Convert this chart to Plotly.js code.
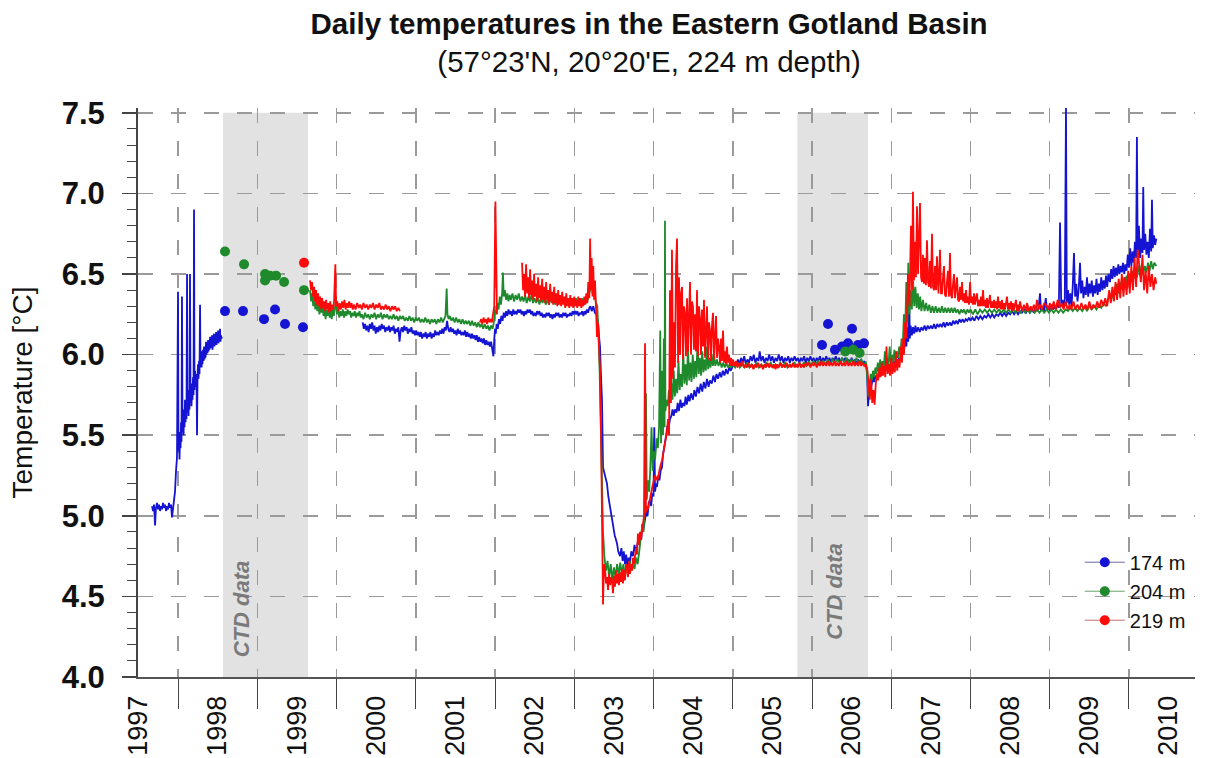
<!DOCTYPE html>
<html><head><meta charset="utf-8">
<script src="https://cdn.plot.ly/plotly-3.0.1.min.js"></script>
<style>html,body{margin:0;padding:0;background:#fff}#chart{width:1211px;height:758px}</style>
</head><body><div id="chart"></div>
<script>
// ---------- data (decimal year, °C) ----------
const yearLabels = ['1997','1998','1999','2000','2001','2002','2003','2004','2005','2006','2007','2008','2009','2010'];
const yearCenters = [1997.5,1998.5,1999.5,2000.5,2001.5,2002.5,2003.5,2004.5,2005.5,2006.5,2007.5,2008.5,2009.5,2010.5];
const yearBounds = [1998,1999,2000,2001,2002,2003,2004,2005,2006,2007,2008,2009,2010];
const seriesNames = ['174 m','204 m','219 m'];
const ctdPeriods = [[1998.568,1999.640],[2005.815,2006.707]];
const ctdLabelPos = [[1998.795,4.42],[2006.28,4.53]];

const data174 = [
[1997.672,5.06],[1997.685,5.03],[1997.697,5.07],[1997.710,4.94],[1997.722,5.05],[1997.735,5.08],[1997.748,5.04],[1997.760,5.07],[1997.773,5.03],[1997.786,5.06],[1997.798,5.04],[1997.811,5.08],[1997.823,5.05],[1997.836,5.07],[1997.849,5.03],[1997.861,5.06],[1997.874,5.04],[1997.886,5.08],[1997.899,5.05],[1997.912,5.07],[1997.924,4.99],[1997.937,5.06],[1997.950,5.08],
[1997.962,5.15],[1997.975,5.28],[1997.987,5.36],[1998.000,6.39],[1998.006,5.40],[1998.013,5.48],[1998.019,5.35],[1998.025,5.52],[1998.032,5.42],[1998.038,5.58],[1998.044,5.46],[1998.050,6.36],[1998.057,5.52],[1998.063,5.62],[1998.070,5.50],[1998.076,5.66],[1998.082,5.55],[1998.088,5.72],[1998.095,5.58],[1998.101,5.68],[1998.107,5.60],[1998.114,6.50],[1998.120,5.64],[1998.126,5.74],[1998.133,5.62],[1998.139,5.78],[1998.145,5.66],[1998.151,6.50],[1998.158,5.70],[1998.164,5.82],[1998.170,5.68],[1998.177,5.80],[1998.183,5.72],[1998.189,5.86],[1998.196,5.75],[1998.202,6.90],[1998.208,5.78],[1998.215,5.90],[1998.221,5.80],[1998.227,5.88],[1998.234,5.82],[1998.240,5.50],[1998.246,5.86],[1998.252,5.94],[1998.259,5.85],[1998.265,5.96],[1998.271,5.88],[1998.278,6.31],[1998.284,5.92],[1998.290,6.00],[1998.297,5.92],[1998.303,6.02],[1998.309,5.94],[1998.315,6.03],[1998.322,5.96],[1998.328,6.05],[1998.334,5.97],[1998.341,6.04],[1998.347,5.98],[1998.353,6.08],[1998.360,6.00],[1998.366,6.06],[1998.372,6.01],[1998.379,6.09],[1998.385,6.02],[1998.391,6.08],[1998.398,6.03],[1998.404,6.11],[1998.410,6.04],[1998.416,6.10],[1998.423,6.05],[1998.429,6.12],[1998.435,6.03],[1998.442,6.09],[1998.448,6.06],[1998.454,6.13],[1998.461,6.05],[1998.467,6.11],[1998.473,6.07],[1998.480,6.14],[1998.486,6.06],[1998.492,6.12],[1998.499,6.08],[1998.505,6.15],[1998.511,6.07],[1998.517,6.13],[1998.524,6.09],[1998.530,6.16],[1998.536,6.08],[1998.543,6.12],[1998.549,6.10],[1998.555,6.11],
[1998.560,null],
[2000.330,6.20],[2000.345,6.16],[2000.360,6.19],[2000.375,6.15],[2000.390,6.18],[2000.405,6.14],[2000.420,6.19],[2000.435,6.16],[2000.450,6.20],[2000.465,6.15],[2000.480,6.18],[2000.495,6.13],[2000.510,6.17],[2000.525,6.14],[2000.540,6.18],[2000.555,6.15],[2000.570,6.19],[2000.585,6.16],[2000.600,6.18],[2000.615,6.14],[2000.630,6.17],[2000.645,6.15],[2000.660,6.18],[2000.675,6.14],[2000.690,6.17],[2000.705,6.15],[2000.720,6.18],[2000.735,6.13],[2000.750,6.16],[2000.765,6.14],[2000.780,6.17],[2000.795,6.08],[2000.810,6.15],[2000.825,6.17],[2000.840,6.14],[2000.855,6.18],[2000.870,6.15],[2000.885,6.17],[2000.900,6.13],[2000.915,6.16],[2000.930,6.14],[2000.945,6.17],[2000.960,6.13],[2000.975,6.15],[2000.990,6.12],
[2001.005,6.15],[2001.020,6.12],[2001.035,6.14],[2001.050,6.11],[2001.065,6.14],[2001.080,6.10],[2001.095,6.13],[2001.110,6.11],[2001.125,6.14],[2001.140,6.10],[2001.155,6.13],[2001.170,6.11],[2001.185,6.14],[2001.200,6.10],[2001.215,6.13],[2001.230,6.11],[2001.245,6.15],[2001.260,6.12],[2001.275,6.14],[2001.290,6.12],[2001.305,6.15],[2001.320,6.13],[2001.335,6.16],[2001.350,6.13],[2001.365,6.17],[2001.380,6.15],[2001.395,6.21],[2001.410,6.16],[2001.425,6.14],[2001.440,6.17],[2001.455,6.14],[2001.470,6.16],[2001.485,6.13],[2001.500,6.15],[2001.515,6.12],[2001.530,6.16],[2001.545,6.13],[2001.560,6.15],[2001.575,6.12],[2001.590,6.14],[2001.605,6.12],[2001.620,6.15],[2001.635,6.11],[2001.650,6.14],[2001.665,6.11],[2001.680,6.13],[2001.695,6.10],[2001.710,6.13],[2001.725,6.10],[2001.740,6.12],[2001.755,6.09],[2001.770,6.12],[2001.785,6.08],[2001.800,6.11],[2001.815,6.08],[2001.830,6.10],[2001.845,6.07],[2001.860,6.10],[2001.875,6.06],[2001.890,6.09],[2001.905,6.06],[2001.920,6.08],[2001.935,6.05],[2001.950,6.08],[2001.965,6.04],[2001.980,5.99],[2001.990,6.09],
[2002.000,6.16],[2002.010,6.13],[2002.020,6.19],[2002.035,6.16],[2002.050,6.22],[2002.065,6.19],[2002.080,6.24],[2002.095,6.21],[2002.110,6.26],[2002.125,6.23],[2002.140,6.27],[2002.155,6.24],[2002.170,6.28],[2002.185,6.25],[2002.200,6.27],[2002.215,6.24],[2002.230,6.28],[2002.245,6.25],[2002.260,6.27],[2002.275,6.25],[2002.290,6.28],[2002.305,6.26],[2002.320,6.28],[2002.335,6.25],[2002.350,6.27],[2002.365,6.24],[2002.380,6.27],[2002.395,6.25],[2002.410,6.28],[2002.425,6.26],[2002.440,6.28],[2002.455,6.25],[2002.470,6.27],[2002.485,6.24],[2002.500,6.26],[2002.515,6.24],[2002.530,6.27],[2002.545,6.25],[2002.560,6.27],[2002.575,6.24],[2002.590,6.26],[2002.605,6.23],[2002.620,6.25],[2002.635,6.23],[2002.650,6.26],[2002.665,6.24],[2002.680,6.26],[2002.695,6.23],[2002.710,6.25],[2002.725,6.22],[2002.740,6.25],[2002.755,6.23],[2002.770,6.26],[2002.785,6.24],[2002.800,6.26],[2002.815,6.23],[2002.830,6.25],[2002.845,6.23],[2002.860,6.26],[2002.875,6.24],[2002.890,6.26],[2002.905,6.23],[2002.920,6.25],[2002.935,6.24],[2002.950,6.26],[2002.965,6.24],[2002.980,6.27],[2002.995,6.25],
[2003.010,6.27],[2003.025,6.25],[2003.040,6.27],[2003.055,6.24],[2003.070,6.26],[2003.085,6.25],[2003.100,6.27],[2003.115,6.24],[2003.130,6.27],[2003.145,6.25],[2003.160,6.28],[2003.175,6.26],[2003.190,6.29],[2003.205,6.30],[2003.220,6.27],[2003.240,6.30],[2003.260,6.26],[2003.280,6.25],[2003.300,6.20],[2003.315,6.10],[2003.325,6.05],[2003.335,5.90],[2003.350,5.72],[2003.363,5.30],[2003.388,5.25],[2003.413,5.20],[2003.430,5.12],[2003.451,5.06],[2003.470,5.00],[2003.489,4.93],[2003.510,4.88],[2003.539,4.83],[2003.555,4.78],[2003.577,4.75],[2003.595,4.80],[2003.610,4.72],[2003.625,4.78],[2003.640,4.70],[2003.655,4.76],[2003.670,4.68],[2003.685,4.74],[2003.703,4.71],[2003.720,4.78],[2003.741,4.75],[2003.760,4.82],[2003.775,4.78],[2003.792,4.81],[2003.810,4.86],[2003.830,4.89],[2003.845,4.85],[2003.860,4.95],[2003.875,4.92],[2003.893,4.99],[2003.910,5.03],[2003.925,5.00],[2003.940,5.08],[2003.956,5.10],[2003.970,5.06],[2003.985,5.14],
[2004.000,5.12],[2004.010,5.55],[2004.019,5.15],[2004.035,5.20],[2004.044,5.18],[2004.060,5.25],[2004.075,5.22],[2004.090,5.28],[2004.107,5.30],[2004.120,5.38],[2004.135,5.42],[2004.145,5.47],[2004.160,5.50],[2004.175,5.56],[2004.190,5.54],[2004.208,5.60],[2004.225,5.62],[2004.240,5.66],[2004.255,5.62],[2004.271,5.66],[2004.290,5.64],[2004.305,5.70],[2004.320,5.65],[2004.340,5.72],[2004.355,5.67],[2004.372,5.70],[2004.390,5.68],[2004.405,5.74],[2004.420,5.69],[2004.440,5.75],[2004.455,5.71],[2004.475,5.76],[2004.498,5.72],[2004.515,5.78],[2004.535,5.74],[2004.555,5.80],[2004.575,5.76],[2004.595,5.82],[2004.615,5.77],[2004.635,5.83],[2004.655,5.79],[2004.675,5.85],[2004.695,5.80],[2004.713,5.84],[2004.735,5.82],[2004.755,5.87],[2004.775,5.83],[2004.795,5.88],[2004.815,5.85],[2004.835,5.89],[2004.855,5.86],[2004.875,5.90],[2004.895,5.87],[2004.915,5.91],[2004.935,5.88],[2004.955,5.92],[2004.975,5.90],[2005.003,5.93],
[2005.025,5.95],[2005.045,5.93],[2005.065,5.97],[2005.085,5.94],[2005.105,5.98],[2005.125,5.95],[2005.145,5.99],[2005.165,5.94],[2005.185,5.97],[2005.205,5.95],[2005.225,5.99],[2005.245,5.96],[2005.265,6.00],[2005.285,5.95],[2005.305,5.98],[2005.325,5.96],[2005.340,6.02],[2005.360,5.96],[2005.380,5.99],[2005.400,5.95],[2005.420,5.98],[2005.440,5.96],[2005.460,6.00],[2005.480,5.96],[2005.500,5.99],[2005.520,5.95],[2005.540,5.98],[2005.560,5.96],[2005.580,6.00],[2005.600,5.96],[2005.620,5.99],[2005.640,5.95],[2005.660,5.98],[2005.680,5.96],[2005.700,5.99],[2005.720,5.95],[2005.740,5.98],[2005.760,5.96],[2005.780,5.99],[2005.800,5.96],[2005.820,5.98],[2005.840,5.95],[2005.860,5.98],[2005.880,5.96],[2005.900,5.99],[2005.920,5.95],[2005.940,5.98],[2005.960,5.96],[2005.980,5.99],
[2006.000,5.96],[2006.020,5.98],[2006.040,5.95],[2006.060,5.98],[2006.080,5.96],[2006.100,5.99],[2006.120,5.95],[2006.140,5.98],[2006.160,5.96],[2006.180,5.99],[2006.200,5.96],[2006.220,5.98],[2006.240,5.95],[2006.260,5.98],[2006.280,5.96],[2006.300,5.99],[2006.320,5.96],[2006.340,5.98],[2006.360,5.95],[2006.380,5.98],[2006.400,5.96],[2006.420,5.98],[2006.440,5.95],[2006.460,5.97],[2006.480,5.95],[2006.500,5.98],[2006.520,5.95],[2006.540,5.97],[2006.560,5.94],[2006.580,5.97],[2006.600,5.95],[2006.620,5.97],[2006.640,5.94],[2006.660,5.96],[2006.680,5.93],[2006.695,5.90],[2006.707,5.68],[2006.715,5.75],[2006.725,5.80],[2006.740,5.78],[2006.755,5.83],[2006.770,5.86],[2006.785,5.83],[2006.800,5.87],[2006.815,5.85],[2006.830,5.88],[2006.845,5.86],[2006.860,5.90],[2006.875,5.87],[2006.890,5.91],[2006.905,5.88],[2006.920,5.92],[2006.935,5.90],[2006.950,5.93],[2006.965,5.91],[2006.980,5.94],[2006.995,5.92],
[2007.010,5.95],[2007.025,5.93],[2007.040,5.96],[2007.055,5.94],[2007.070,5.97],[2007.085,5.95],[2007.100,5.98],[2007.115,5.97],[2007.130,6.02],[2007.145,6.07],[2007.160,6.01],[2007.175,6.12],[2007.190,6.05],[2007.205,6.17],[2007.215,6.08],[2007.225,6.40],[2007.235,6.10],[2007.245,6.18],[2007.260,6.12],[2007.275,6.17],[2007.290,6.13],[2007.305,6.18],[2007.320,6.14],[2007.340,6.17],[2007.360,6.14],[2007.380,6.17],[2007.400,6.15],[2007.420,6.18],[2007.440,6.15],[2007.460,6.18],[2007.480,6.16],[2007.500,6.18],[2007.520,6.16],[2007.540,6.19],[2007.560,6.16],[2007.580,6.19],[2007.600,6.17],[2007.620,6.19],[2007.640,6.17],[2007.660,6.20],[2007.680,6.17],[2007.700,6.20],[2007.720,6.18],[2007.740,6.20],[2007.760,6.18],[2007.780,6.21],[2007.800,6.19],[2007.820,6.21],[2007.840,6.19],[2007.860,6.22],[2007.880,6.20],[2007.900,6.22],[2007.920,6.20],[2007.940,6.22],[2007.960,6.21],[2007.980,6.23],
[2008.000,6.21],[2008.025,6.23],[2008.050,6.21],[2008.075,6.24],[2008.100,6.22],[2008.125,6.24],[2008.150,6.22],[2008.175,6.24],[2008.200,6.23],[2008.225,6.25],[2008.250,6.23],[2008.275,6.25],[2008.300,6.23],[2008.325,6.25],[2008.350,6.24],[2008.375,6.26],[2008.400,6.24],[2008.425,6.26],[2008.450,6.24],[2008.475,6.26],[2008.500,6.25],[2008.525,6.27],[2008.550,6.25],[2008.575,6.27],[2008.600,6.25],[2008.625,6.27],[2008.650,6.26],[2008.675,6.28],[2008.700,6.26],[2008.725,6.28],[2008.750,6.26],[2008.775,6.28],[2008.800,6.26],[2008.820,6.30],[2008.840,6.27],[2008.860,6.29],[2008.877,6.38],[2008.890,6.27],[2008.910,6.30],[2008.930,6.27],[2008.950,6.35],[2008.965,6.28],[2008.985,6.30],
[2009.000,6.27],[2009.020,6.31],[2009.040,6.28],[2009.060,6.30],[2009.080,6.28],[2009.100,6.32],[2009.115,6.29],[2009.130,6.82],[2009.145,6.30],[2009.160,6.34],[2009.175,6.29],[2009.190,6.35],[2009.205,7.53],[2009.215,6.32],[2009.230,6.40],[2009.245,6.31],[2009.260,6.38],[2009.275,6.30],[2009.290,6.42],[2009.306,6.63],[2009.320,6.36],[2009.335,6.44],[2009.350,6.33],[2009.365,6.40],[2009.382,6.57],[2009.395,6.38],[2009.410,6.46],[2009.425,6.35],[2009.440,6.42],[2009.455,6.37],[2009.470,6.48],[2009.485,6.36],[2009.500,6.44],[2009.515,6.38],[2009.530,6.46],[2009.545,6.36],[2009.560,6.43],[2009.575,6.38],[2009.590,6.47],[2009.605,6.37],[2009.620,6.44],[2009.635,6.39],[2009.650,6.48],[2009.665,6.40],[2009.680,6.46],[2009.695,6.41],[2009.710,6.49],[2009.725,6.42],[2009.740,6.50],[2009.760,6.45],[2009.775,6.53],[2009.790,6.47],[2009.805,6.55],[2009.820,6.48],[2009.835,6.54],[2009.850,6.49],[2009.865,6.56],[2009.880,6.50],[2009.895,6.55],[2009.910,6.51],[2009.925,6.57],[2009.940,6.50],[2009.955,6.56],[2009.970,6.52],[2009.985,6.62],
[2010.000,6.54],[2010.015,6.66],[2010.030,6.55],[2010.045,6.64],[2010.060,6.57],[2010.075,6.70],[2010.090,6.60],[2010.100,7.35],[2010.110,6.62],[2010.125,6.80],[2010.140,6.60],[2010.155,6.72],[2010.170,6.63],[2010.180,7.04],[2010.190,6.65],[2010.205,6.75],[2010.220,6.62],[2010.235,6.70],[2010.250,6.60],[2010.265,6.78],[2010.280,6.64],[2010.290,6.96],[2010.300,6.66],[2010.315,6.74],[2010.330,6.68],[2010.345,6.72]
];

const data204 = [
[1999.666,6.40],[1999.680,6.33],[1999.693,6.38],[1999.706,6.30],[1999.719,6.36],[1999.732,6.28],[1999.745,6.34],[1999.758,6.27],[1999.771,6.33],[1999.784,6.25],[1999.797,6.31],[1999.810,6.26],[1999.823,6.30],[1999.836,6.24],[1999.849,6.29],[1999.862,6.22],[1999.875,6.28],[1999.888,6.24],[1999.901,6.30],[1999.914,6.23],[1999.927,6.27],[1999.940,6.22],[1999.953,6.28],[1999.966,6.24],[1999.980,6.29],[1999.993,6.36],
[2000.005,6.25],[2000.020,6.28],[2000.035,6.23],[2000.050,6.27],[2000.065,6.24],[2000.080,6.28],[2000.095,6.23],[2000.110,6.27],[2000.125,6.24],[2000.140,6.28],[2000.155,6.25],[2000.170,6.27],[2000.185,6.23],[2000.200,6.26],[2000.215,6.24],[2000.230,6.27],[2000.245,6.23],[2000.260,6.26],[2000.275,6.24],[2000.290,6.27],[2000.305,6.23],[2000.320,6.25],[2000.340,6.22],[2000.360,6.26],[2000.380,6.23],[2000.400,6.25],[2000.420,6.22],[2000.440,6.25],[2000.460,6.23],[2000.480,6.26],[2000.500,6.22],[2000.520,6.25],[2000.540,6.23],[2000.560,6.26],[2000.580,6.22],[2000.600,6.25],[2000.620,6.23],[2000.640,6.25],[2000.660,6.22],[2000.680,6.24],[2000.700,6.22],[2000.720,6.25],[2000.740,6.22],[2000.760,6.24],[2000.780,6.21],[2000.800,6.24],[2000.820,6.22],[2000.840,6.24],[2000.860,6.21],[2000.880,6.23],[2000.900,6.21],[2000.920,6.24],[2000.940,6.21],[2000.960,6.23],[2000.980,6.20],
[2001.000,6.23],[2001.020,6.21],[2001.040,6.23],[2001.060,6.20],[2001.080,6.22],[2001.100,6.20],[2001.120,6.23],[2001.140,6.20],[2001.160,6.22],[2001.180,6.19],[2001.200,6.22],[2001.220,6.20],[2001.240,6.22],[2001.260,6.19],[2001.280,6.22],[2001.300,6.20],[2001.320,6.23],[2001.340,6.20],[2001.360,6.22],[2001.375,6.24],[2001.390,6.41],[2001.400,6.25],[2001.415,6.22],[2001.430,6.24],[2001.450,6.21],[2001.470,6.23],[2001.490,6.20],[2001.510,6.23],[2001.530,6.20],[2001.550,6.22],[2001.570,6.19],[2001.590,6.22],[2001.610,6.19],[2001.630,6.21],[2001.650,6.19],[2001.670,6.21],[2001.690,6.18],[2001.710,6.21],[2001.730,6.18],[2001.750,6.20],[2001.770,6.17],[2001.790,6.20],[2001.810,6.17],[2001.830,6.19],[2001.850,6.16],[2001.870,6.19],[2001.890,6.16],[2001.910,6.18],[2001.930,6.15],[2001.950,6.18],[2001.970,6.16],[2001.985,6.20],
[2002.000,6.28],[2002.015,6.25],[2002.030,6.32],[2002.045,6.28],[2002.060,6.36],[2002.075,6.31],[2002.090,6.38],[2002.100,6.51],[2002.110,6.36],[2002.125,6.40],[2002.140,6.34],[2002.155,6.38],[2002.170,6.33],[2002.185,6.37],[2002.200,6.34],[2002.220,6.38],[2002.240,6.33],[2002.260,6.37],[2002.280,6.34],[2002.300,6.38],[2002.320,6.33],[2002.340,6.36],[2002.360,6.33],[2002.380,6.37],[2002.400,6.32],[2002.420,6.36],[2002.440,6.33],[2002.460,6.37],[2002.480,6.32],[2002.500,6.35],[2002.520,6.32],[2002.540,6.36],[2002.560,6.31],[2002.580,6.35],[2002.600,6.32],[2002.620,6.35],[2002.640,6.31],[2002.660,6.34],[2002.680,6.31],[2002.700,6.35],[2002.720,6.32],[2002.740,6.35],[2002.760,6.31],[2002.780,6.34],[2002.800,6.31],[2002.820,6.35],[2002.840,6.32],[2002.860,6.34],[2002.880,6.31],[2002.900,6.35],[2002.920,6.32],[2002.940,6.35],[2002.960,6.31],[2002.980,6.34],
[2003.000,6.32],[2003.020,6.35],[2003.040,6.31],[2003.060,6.34],[2003.080,6.32],[2003.100,6.35],[2003.120,6.31],[2003.140,6.34],[2003.160,6.32],[2003.180,6.36],[2003.200,6.40],[2003.215,6.51],[2003.230,6.38],[2003.250,6.42],[2003.270,6.33],[2003.290,6.30],[2003.305,6.15],[2003.320,5.90],[2003.335,5.60],[2003.350,5.20],[2003.363,4.90],[2003.380,4.75],[2003.400,4.66],[2003.420,4.72],[2003.440,4.62],[2003.460,4.70],[2003.480,4.60],[2003.500,4.68],[2003.520,4.62],[2003.540,4.70],[2003.560,4.63],[2003.580,4.71],[2003.600,4.64],[2003.620,4.70],[2003.640,4.62],[2003.660,4.69],[2003.680,4.65],[2003.700,4.72],[2003.720,4.66],[2003.740,4.70],[2003.760,4.67],[2003.780,4.74],[2003.800,4.70],[2003.820,4.78],[2003.840,4.85],[2003.860,4.95],[2003.875,4.90],[2003.890,5.05],[2003.905,5.76],[2003.915,5.10],[2003.930,5.22],[2003.945,5.15],[2003.960,5.30],[2003.975,5.55],[2003.990,5.28],
[2004.005,5.40],[2004.020,5.35],[2004.040,5.48],[2004.055,5.42],[2004.070,5.55],[2004.085,6.15],[2004.095,5.45],[2004.110,5.90],[2004.120,5.50],[2004.130,6.10],[2004.140,5.55],[2004.145,6.83],[2004.150,5.65],[2004.165,5.72],[2004.180,5.68],[2004.195,5.78],[2004.210,5.70],[2004.225,5.82],[2004.240,5.72],[2004.255,5.90],[2004.270,5.74],[2004.285,5.85],[2004.300,5.76],[2004.315,5.96],[2004.330,5.78],[2004.345,5.88],[2004.360,5.80],[2004.375,6.02],[2004.390,5.82],[2004.405,5.94],[2004.420,5.81],[2004.435,6.05],[2004.450,5.84],[2004.465,5.95],[2004.480,5.83],[2004.495,6.00],[2004.510,5.85],[2004.525,5.96],[2004.540,5.86],[2004.555,6.08],[2004.570,5.88],[2004.585,5.98],[2004.600,5.87],[2004.615,6.02],[2004.630,5.89],[2004.645,5.97],[2004.660,5.90],[2004.675,6.05],[2004.690,5.91],[2004.705,5.98],[2004.720,5.92],[2004.735,6.00],[2004.750,5.93],[2004.765,5.99],[2004.780,5.93],[2004.800,5.97],[2004.820,5.93],[2004.840,5.96],[2004.860,5.92],[2004.880,5.95],[2004.900,5.92],[2004.920,5.95],[2004.940,5.92],[2004.960,5.94],[2004.980,5.92],
[2005.000,5.94],[2005.030,5.92],[2005.060,5.95],[2005.090,5.92],[2005.120,5.94],[2005.150,5.92],[2005.180,5.95],[2005.210,5.92],[2005.240,5.94],[2005.270,5.92],[2005.300,5.95],[2005.330,5.92],[2005.360,5.94],[2005.390,5.92],[2005.420,5.95],[2005.450,5.93],[2005.480,5.95],[2005.510,5.92],[2005.540,5.94],[2005.570,5.92],[2005.600,5.95],[2005.630,5.93],[2005.660,5.95],[2005.690,5.92],[2005.720,5.94],[2005.750,5.93],[2005.780,5.95],[2005.810,5.93],[2005.840,5.95],[2005.870,5.93],[2005.900,5.95],[2005.930,5.93],[2005.960,5.96],[2005.990,5.93],
[2006.020,5.96],[2006.050,5.94],[2006.080,5.96],[2006.110,5.94],[2006.140,5.96],[2006.170,5.94],[2006.200,5.97],[2006.230,5.94],[2006.260,5.97],[2006.290,5.95],[2006.320,5.97],[2006.350,5.95],[2006.380,5.98],[2006.410,5.95],[2006.440,5.98],[2006.470,5.95],[2006.500,5.97],[2006.530,5.95],[2006.560,5.98],[2006.590,5.95],[2006.620,5.97],[2006.650,5.94],[2006.680,5.95],[2006.700,5.85],[2006.710,5.74],[2006.725,5.82],[2006.740,5.88],[2006.755,5.84],[2006.770,5.90],[2006.785,5.86],[2006.800,5.92],[2006.815,5.88],[2006.830,5.95],[2006.845,5.89],[2006.860,5.97],[2006.875,5.90],[2006.890,5.96],[2006.905,5.91],[2006.920,6.02],[2006.935,5.92],[2006.950,5.98],[2006.965,5.93],[2006.980,6.05],[2006.995,5.94],
[2007.010,6.00],[2007.025,5.95],[2007.040,6.03],[2007.055,5.96],[2007.070,6.02],[2007.085,5.98],[2007.100,6.05],[2007.115,6.00],[2007.130,6.10],[2007.145,6.05],[2007.160,6.25],[2007.175,6.12],[2007.190,6.45],[2007.205,6.20],[2007.215,6.57],[2007.230,6.25],[2007.245,6.40],[2007.260,6.28],[2007.275,6.46],[2007.290,6.30],[2007.305,6.42],[2007.320,6.29],[2007.335,6.38],[2007.350,6.28],[2007.365,6.36],[2007.380,6.27],[2007.400,6.34],[2007.420,6.27],[2007.440,6.32],[2007.460,6.27],[2007.480,6.31],[2007.500,6.26],[2007.520,6.30],[2007.540,6.26],[2007.560,6.30],[2007.580,6.26],[2007.600,6.29],[2007.620,6.26],[2007.640,6.30],[2007.660,6.26],[2007.680,6.29],[2007.700,6.26],[2007.720,6.29],[2007.740,6.26],[2007.760,6.29],[2007.780,6.26],[2007.800,6.29],[2007.820,6.26],[2007.840,6.28],[2007.860,6.25],[2007.880,6.28],[2007.900,6.26],[2007.920,6.28],[2007.940,6.25],[2007.960,6.28],[2007.980,6.26],
[2008.000,6.28],[2008.030,6.25],[2008.060,6.28],[2008.090,6.25],[2008.120,6.28],[2008.150,6.26],[2008.180,6.28],[2008.210,6.26],[2008.240,6.28],[2008.270,6.26],[2008.300,6.28],[2008.330,6.26],[2008.360,6.28],[2008.390,6.26],[2008.420,6.28],[2008.450,6.26],[2008.480,6.28],[2008.510,6.26],[2008.540,6.28],[2008.570,6.26],[2008.600,6.28],[2008.630,6.26],[2008.660,6.28],[2008.690,6.26],[2008.720,6.28],[2008.750,6.26],[2008.780,6.28],[2008.810,6.26],[2008.840,6.28],[2008.870,6.26],[2008.900,6.28],[2008.930,6.26],[2008.960,6.28],[2008.990,6.26],
[2009.020,6.28],[2009.050,6.26],[2009.080,6.28],[2009.110,6.26],[2009.140,6.28],[2009.170,6.26],[2009.200,6.28],[2009.230,6.27],[2009.260,6.29],[2009.290,6.27],[2009.320,6.29],[2009.350,6.27],[2009.380,6.29],[2009.410,6.27],[2009.440,6.30],[2009.470,6.27],[2009.500,6.30],[2009.530,6.28],[2009.560,6.30],[2009.590,6.28],[2009.620,6.31],[2009.650,6.29],[2009.680,6.32],[2009.710,6.30],[2009.740,6.34],[2009.760,6.38],[2009.775,6.33],[2009.790,6.40],[2009.805,6.35],[2009.820,6.42],[2009.835,6.37],[2009.850,6.44],[2009.865,6.38],[2009.880,6.45],[2009.895,6.40],[2009.910,6.47],[2009.925,6.42],[2009.940,6.48],[2009.955,6.43],[2009.970,6.49],[2009.985,6.44],
[2010.000,6.50],[2010.020,6.45],[2010.040,6.52],[2010.060,6.47],[2010.080,6.53],[2010.100,6.48],[2010.120,6.55],[2010.140,6.49],[2010.160,6.56],[2010.180,6.50],[2010.200,6.55],[2010.220,6.51],[2010.240,6.57],[2010.260,6.52],[2010.280,6.58],[2010.300,6.53],[2010.320,6.57],[2010.345,6.55]
];

const data219 = [
[1999.666,6.46],[1999.679,6.40],[1999.692,6.45],[1999.704,6.36],[1999.717,6.42],[1999.730,6.33],[1999.742,6.40],[1999.755,6.31],[1999.768,6.38],[1999.780,6.30],[1999.793,6.36],[1999.806,6.28],[1999.818,6.35],[1999.831,6.29],[1999.844,6.33],[1999.856,6.27],[1999.869,6.34],[1999.882,6.28],[1999.894,6.32],[1999.907,6.26],[1999.920,6.33],[1999.932,6.27],[1999.945,6.31],[1999.958,6.28],[1999.970,6.34],[1999.985,6.56],[1999.995,6.30],
[2000.010,6.33],[2000.025,6.27],[2000.040,6.32],[2000.055,6.28],[2000.070,6.33],[2000.085,6.29],[2000.100,6.34],[2000.115,6.28],[2000.130,6.32],[2000.145,6.29],[2000.160,6.33],[2000.175,6.29],[2000.190,6.32],[2000.205,6.28],[2000.220,6.31],[2000.240,6.28],[2000.260,6.32],[2000.280,6.29],[2000.300,6.31],[2000.320,6.28],[2000.340,6.32],[2000.360,6.29],[2000.380,6.31],[2000.400,6.28],[2000.420,6.31],[2000.440,6.29],[2000.460,6.32],[2000.480,6.28],[2000.500,6.31],[2000.520,6.29],[2000.540,6.32],[2000.560,6.28],[2000.580,6.30],[2000.600,6.28],[2000.620,6.31],[2000.640,6.28],[2000.660,6.30],[2000.680,6.27],[2000.700,6.30],[2000.720,6.28],[2000.740,6.30],[2000.760,6.27],[2000.780,6.29],[2000.800,6.27],[2000.810,null],
[2001.810,6.20],[2001.825,6.22],[2001.840,6.19],[2001.855,6.23],[2001.870,6.20],[2001.885,6.22],[2001.900,6.19],[2001.915,6.23],[2001.930,6.20],[2001.945,6.22],[2001.960,6.20],[2001.975,6.24],[2001.990,6.30],[2002.005,6.95],[2002.015,6.40],[2002.025,6.25],[2002.030,null],
[2002.341,6.57],[2002.354,6.40],[2002.367,6.50],[2002.379,6.36],[2002.392,6.56],[2002.405,6.38],[2002.417,6.48],[2002.430,6.35],[2002.443,6.53],[2002.455,6.37],[2002.468,6.46],[2002.481,6.34],[2002.493,6.50],[2002.506,6.36],[2002.519,6.44],[2002.531,6.33],[2002.544,6.48],[2002.557,6.35],[2002.569,6.43],[2002.582,6.33],[2002.595,6.47],[2002.607,6.34],[2002.620,6.42],[2002.633,6.32],[2002.645,6.45],[2002.658,6.34],[2002.671,6.40],[2002.683,6.31],[2002.696,6.44],[2002.709,6.33],[2002.721,6.39],[2002.734,6.31],[2002.747,6.42],[2002.759,6.32],[2002.772,6.38],[2002.785,6.30],[2002.797,6.40],[2002.810,6.31],[2002.823,6.37],[2002.835,6.30],[2002.848,6.39],[2002.861,6.31],[2002.873,6.36],[2002.886,6.29],[2002.899,6.38],[2002.911,6.30],[2002.924,6.35],[2002.937,6.29],[2002.949,6.37],[2002.962,6.30],[2002.975,6.35],[2002.987,6.29],
[2003.000,6.36],[2003.013,6.30],[2003.025,6.34],[2003.038,6.29],[2003.051,6.36],[2003.063,6.30],[2003.076,6.35],[2003.089,6.29],[2003.101,6.34],[2003.114,6.30],[2003.127,6.36],[2003.139,6.31],[2003.152,6.38],[2003.165,6.32],[2003.177,6.45],[2003.190,6.35],[2003.200,6.72],[2003.210,6.40],[2003.220,6.60],[2003.230,6.36],[2003.240,6.55],[2003.250,6.34],[2003.262,6.46],[2003.275,6.30],[2003.287,6.11],[2003.300,6.20],[2003.312,6.03],[2003.325,5.90],[2003.338,5.51],[2003.350,5.00],[2003.363,4.45],[2003.375,4.70],[2003.388,4.68],[2003.401,4.58],[2003.413,4.62],[2003.426,4.54],[2003.439,4.64],[2003.451,4.57],[2003.464,4.62],[2003.476,4.60],[2003.489,4.52],[2003.501,4.63],[2003.514,4.56],[2003.527,4.66],[2003.539,4.58],[2003.552,4.64],[2003.564,4.57],[2003.577,4.65],[2003.590,4.59],[2003.602,4.67],[2003.615,4.58],[2003.627,4.66],[2003.640,4.60],[2003.653,4.70],[2003.666,4.68],[2003.678,4.62],[2003.691,4.72],[2003.703,4.64],[2003.716,4.70],[2003.729,4.66],[2003.741,4.74],[2003.754,4.70],[2003.767,4.77],[2003.779,4.80],[2003.792,4.76],[2003.804,4.89],[2003.817,4.82],[2003.830,4.90],[2003.842,4.85],[2003.855,4.92],[2003.868,4.95],[2003.880,5.00],[2003.893,6.07],[2003.905,5.02],[2003.918,5.06],[2003.930,5.04],[2003.943,5.08],[2003.956,5.10],[2003.985,5.18],
[2004.019,5.25],[2004.050,5.22],[2004.082,5.30],[2004.110,5.35],[2004.145,5.45],[2004.170,5.52],[2004.183,5.60],[2004.196,5.50],[2004.208,6.40],[2004.220,5.70],[2004.233,6.65],[2004.246,5.85],[2004.259,6.20],[2004.271,5.92],[2004.284,6.55],[2004.297,6.72],[2004.310,5.95],[2004.322,6.48],[2004.335,6.00],[2004.347,6.38],[2004.360,6.42],[2004.372,5.97],[2004.385,6.30],[2004.397,6.26],[2004.410,5.99],[2004.423,6.35],[2004.435,6.02],[2004.448,6.28],[2004.461,6.45],[2004.473,6.00],[2004.486,6.33],[2004.498,6.30],[2004.511,6.03],[2004.524,6.25],[2004.536,6.02],[2004.549,6.40],[2004.561,5.99],[2004.574,6.30],[2004.587,6.22],[2004.599,6.00],[2004.612,6.28],[2004.625,6.05],[2004.637,6.34],[2004.650,5.98],[2004.662,6.22],[2004.675,6.30],[2004.688,5.97],[2004.700,6.20],[2004.713,6.15],[2004.726,5.96],[2004.738,6.18],[2004.751,6.26],[2004.764,5.97],[2004.776,6.12],[2004.789,6.24],[2004.801,5.98],[2004.814,6.10],[2004.826,6.05],[2004.839,5.95],[2004.852,6.10],[2004.864,5.96],[2004.877,6.15],[2004.890,5.95],[2004.902,6.02],[2004.915,5.94],[2004.927,6.05],[2004.940,5.95],[2004.952,6.00],[2004.965,5.93],[2004.978,5.98],[2004.990,5.93],[2005.003,5.97],
[2005.020,5.93],[2005.040,5.96],[2005.060,5.92],[2005.080,5.95],[2005.100,5.93],[2005.120,5.96],[2005.140,5.92],[2005.160,5.94],[2005.180,5.92],[2005.200,5.95],[2005.220,5.92],[2005.240,5.94],[2005.260,5.91],[2005.280,5.94],[2005.300,5.92],[2005.320,5.95],[2005.340,5.92],[2005.360,5.94],[2005.380,5.91],[2005.400,5.94],[2005.420,5.92],[2005.440,5.95],[2005.460,5.92],[2005.480,5.94],[2005.500,5.92],[2005.520,5.94],[2005.540,5.91],[2005.560,5.94],[2005.580,5.92],[2005.600,5.95],[2005.620,5.92],[2005.640,5.94],[2005.660,5.92],[2005.680,5.95],[2005.700,5.92],[2005.720,5.94],[2005.740,5.92],[2005.760,5.95],[2005.780,5.92],[2005.800,5.94],[2005.820,5.92],[2005.840,5.95],[2005.860,5.92],[2005.880,5.94],[2005.900,5.92],[2005.920,5.95],[2005.940,5.93],[2005.960,5.95],[2005.980,5.92],
[2006.000,5.95],[2006.020,5.93],[2006.040,5.95],[2006.060,5.92],[2006.080,5.95],[2006.100,5.93],[2006.120,5.96],[2006.140,5.93],[2006.160,5.95],[2006.180,5.93],[2006.200,5.96],[2006.220,5.93],[2006.240,5.95],[2006.260,5.93],[2006.280,5.96],[2006.300,5.93],[2006.320,5.95],[2006.340,5.93],[2006.360,5.96],[2006.380,5.93],[2006.400,5.95],[2006.420,5.93],[2006.440,5.96],[2006.460,5.93],[2006.480,5.95],[2006.500,5.93],[2006.520,5.96],[2006.540,5.93],[2006.560,5.95],[2006.580,5.93],[2006.600,5.96],[2006.620,5.93],[2006.640,5.95],[2006.660,5.93],[2006.680,5.94],[2006.700,5.90],[2006.715,5.80],[2006.730,5.72],[2006.745,5.85],[2006.760,5.70],[2006.775,5.78],[2006.790,5.69],[2006.805,5.82],[2006.820,5.88],[2006.835,5.84],[2006.850,5.92],[2006.865,5.86],[2006.880,5.95],[2006.895,5.87],[2006.910,5.93],[2006.925,5.86],[2006.940,6.05],[2006.955,5.88],[2006.970,5.94],[2006.985,5.87],
[2007.000,5.98],[2007.015,5.88],[2007.030,5.95],[2007.045,5.89],[2007.060,6.02],[2007.075,5.90],[2007.090,5.97],[2007.105,5.92],[2007.120,6.05],[2007.135,5.95],[2007.150,6.10],[2007.160,6.00],[2007.173,6.20],[2007.190,6.10],[2007.211,6.50],[2007.230,6.30],[2007.249,6.80],[2007.262,6.40],[2007.274,7.01],[2007.287,6.46],[2007.300,6.70],[2007.312,6.48],[2007.325,6.92],[2007.338,6.50],[2007.350,6.75],[2007.363,6.94],[2007.376,6.48],[2007.388,6.45],[2007.400,6.62],[2007.413,6.44],[2007.426,6.60],[2007.438,6.43],[2007.451,6.71],[2007.464,6.45],[2007.476,6.42],[2007.489,6.58],[2007.501,6.41],[2007.514,6.75],[2007.527,6.42],[2007.539,6.40],[2007.552,6.55],[2007.565,6.40],[2007.577,6.61],[2007.590,6.39],[2007.596,6.38],[2007.605,6.50],[2007.615,6.65],[2007.628,6.38],[2007.640,6.38],[2007.653,6.48],[2007.666,6.55],[2007.678,6.37],[2007.691,6.36],[2007.703,6.45],[2007.716,6.52],[2007.729,6.36],[2007.741,6.63],[2007.754,6.37],[2007.767,6.35],[2007.780,6.44],[2007.792,6.50],[2007.805,6.35],[2007.817,6.40],[2007.830,6.48],[2007.843,6.34],[2007.855,6.33],[2007.868,6.42],[2007.880,6.34],[2007.893,6.45],[2007.906,6.33],[2007.918,6.38],[2007.931,6.32],[2007.944,6.40],[2007.956,6.32],[2007.969,6.36],[2007.981,6.31],[2007.994,6.45],
[2008.007,6.32],[2008.019,6.36],[2008.032,6.31],[2008.045,6.38],[2008.057,6.31],[2008.070,6.35],[2008.082,6.38],[2008.095,6.30],[2008.107,6.34],[2008.120,6.30],[2008.133,6.36],[2008.145,6.30],[2008.158,6.40],[2008.171,6.30],[2008.183,6.34],[2008.196,6.29],[2008.208,6.35],[2008.221,6.29],[2008.233,6.33],[2008.246,6.37],[2008.259,6.29],[2008.271,6.33],[2008.284,6.29],[2008.297,6.34],[2008.309,6.29],[2008.322,6.33],[2008.334,6.28],[2008.347,6.36],[2008.360,6.29],[2008.372,6.33],[2008.385,6.28],[2008.397,6.34],[2008.410,6.28],[2008.423,6.32],[2008.435,6.28],[2008.448,6.33],[2008.461,6.36],[2008.473,6.28],[2008.486,6.32],[2008.498,6.28],[2008.511,6.33],[2008.524,6.27],[2008.536,6.32],[2008.549,6.28],[2008.562,6.31],[2008.574,6.34],[2008.587,6.27],[2008.599,6.31],[2008.612,6.27],[2008.625,6.33],[2008.650,6.27],[2008.675,6.31],[2008.700,6.27],[2008.713,6.32],[2008.740,6.27],[2008.760,6.30],[2008.776,6.27],[2008.800,6.31],[2008.820,6.27],[2008.839,6.34],[2008.860,6.28],[2008.880,6.31],[2008.902,6.28],[2008.930,6.32],[2008.965,6.30],[2008.985,6.28],
[2009.000,6.32],[2009.025,6.28],[2009.050,6.33],[2009.075,6.28],[2009.100,6.34],[2009.125,6.29],[2009.150,6.32],[2009.175,6.28],[2009.200,6.33],[2009.225,6.28],[2009.250,6.31],[2009.275,6.28],[2009.300,6.33],[2009.325,6.28],[2009.350,6.31],[2009.375,6.28],[2009.400,6.32],[2009.425,6.28],[2009.450,6.31],[2009.475,6.28],[2009.500,6.33],[2009.525,6.28],[2009.550,6.31],[2009.575,6.29],[2009.600,6.33],[2009.625,6.29],[2009.650,6.34],[2009.675,6.30],[2009.700,6.35],[2009.725,6.30],[2009.750,6.40],[2009.770,6.32],[2009.790,6.42],[2009.810,6.33],[2009.830,6.45],[2009.850,6.34],[2009.870,6.47],[2009.890,6.35],[2009.910,6.50],[2009.930,6.36],[2009.950,6.48],[2009.970,6.37],[2009.990,6.52],
[2010.010,6.38],[2010.030,6.55],[2010.050,6.40],[2010.070,6.60],[2010.090,6.42],[2010.110,6.65],[2010.130,6.55],[2010.150,6.45],[2010.170,6.62],[2010.190,6.40],[2010.210,6.52],[2010.230,6.38],[2010.250,6.55],[2010.270,6.42],[2010.290,6.50],[2010.310,6.40],[2010.330,6.48],[2010.345,6.44]
];

// CTD profile values (dots)
const ctd174 = [[1998.593,6.27],[1998.820,6.27],[1999.085,6.22],[1999.224,6.28],[1999.350,6.19],[1999.577,6.17],
  [2006.126,6.06],[2006.202,6.19],[2006.290,6.03],[2006.379,6.05],[2006.454,6.07],[2006.505,6.16],[2006.580,6.06],[2006.656,6.07]];
const ctd204 = [[1998.593,6.64],[1998.833,6.56],[1999.098,6.50],[1999.098,6.46],[1999.161,6.49],[1999.237,6.49],[1999.338,6.45],[1999.590,6.40],
  [2006.420,6.02],[2006.520,6.03],[2006.600,6.01]];
const ctd219 = [[1999.590,6.57]];

// ---------- build traces ----------
const colors = ['#1414d2', '#1f8a2c', '#ff0a0a'];
const legendLineColors = ['#6a6aa8', '#6aa06a', '#c07070'];
function lineTrace(pairs, color){
  return {type:'scatter', mode:'lines', x:pairs.map(p=>p[0]), y:pairs.map(p=>p[1]),
          line:{color:color, width:1.8}, showlegend:false, hoverinfo:'skip', connectgaps:false};
}
function dotTrace(pairs, color, lcolor, name){
  const x=[], y=[];
  pairs.forEach(p=>{ x.push(p[0], p[0]); y.push(p[1], null); });
  return {type:'scatter', mode:'lines+markers', name:name, x:x, y:y, connectgaps:false,
          line:{color:lcolor, width:1}, marker:{color:color, size:10}};
}
const traces = [
  lineTrace(data174, colors[0]), lineTrace(data204, colors[1]), lineTrace(data219, colors[2]),
  dotTrace(ctd174, colors[0], legendLineColors[0], seriesNames[0]),
  dotTrace(ctd204, colors[1], legendLineColors[1], seriesNames[1]),
  dotTrace(ctd219, colors[2], legendLineColors[2], seriesNames[2])
];

const FONT = 'Liberation Sans, Arial, sans-serif';
const shapes = ctdPeriods.map(p=>({type:'rect', layer:'below', xref:'x', yref:'y', x0:p[0], x1:p[1], y0:4, y1:7.5,
  fillcolor:'#e2e2e2', line:{width:0}}));
const annotations = ctdLabelPos.map(p=>({xref:'x', yref:'y', x:p[0], y:p[1],
  text:'<i><b>CTD data</b></i>', textangle:-90, showarrow:false, font:{family:FONT, size:22, color:'#7a7a7a'}}));

const layout = {
  width:1211, height:758,
  paper_bgcolor:'#ffffff', plot_bgcolor:'#ffffff',
  margin:{l:138, r:16, t:108, b:81},
  font:{family:FONT, color:'#111'},
  title:{text:'<b>Daily temperatures in the Eastern Gotland Basin</b><br>(57°23\'N, 20°20\'E, 224 m depth)',
         font:{family:FONT, size:29.5, color:'#111'}, x:0.536, xref:'container', xanchor:'center', y:0.955, yref:'container', yanchor:'top'},
  xaxis:{type:'linear', range:[1997.495, 2010.833], tickmode:'array', tickvals:yearCenters, ticktext:yearLabels,
         tickangle:-90, tickfont:{family:FONT, size:27, color:'#111'}, ticks:'', showgrid:false, zeroline:false,
         showline:true, linecolor:'#555', linewidth:2, ticklabelstandoff:6,
         minor:{tickmode:'array', tickvals:yearBounds, ticks:'outside', ticklen:30, tickwidth:1, tickcolor:'#444',
                showgrid:true, gridcolor:'#9a9a9a', gridwidth:1.5, griddash:'15px,18px'}},
  yaxis:{range:[4, 7.53], tickmode:'array', tickvals:[4,4.5,5,5.5,6,6.5,7,7.5], ticktext:['4.0','4.5','5.0','5.5','6.0','6.5','7.0','7.5'],
         tickfont:{family:FONT, size:31, color:'#111', weight:'bold'}, ticks:'outside', ticklen:14, tickwidth:1.5, tickcolor:'#444',
         showline:true, linecolor:'#444', linewidth:2, zeroline:false, showgrid:true, gridcolor:'#9a9a9a', gridwidth:1.5, griddash:'15px,18px',
         ticklabelstandoff:11,
         title:{text:'Temperature [°C]', font:{family:FONT, size:28, color:'#111'}, standoff:21},
         minor:{dtick:0.1, tick0:4, ticks:'outside', ticklen:9, tickwidth:1, tickcolor:'#444', showgrid:false}},
  legend:{x:0.891, xanchor:'left', y:0.236, yanchor:'top', bgcolor:'rgba(0,0,0,0)', font:{family:FONT, size:20, color:'#111'}, itemwidth:40, tracegroupgap:0},
  shapes:shapes, annotations:annotations, showlegend:true
};
Plotly.newPlot('chart', traces, layout, {displayModeBar:false, staticPlot:true});
</script></body></html>
